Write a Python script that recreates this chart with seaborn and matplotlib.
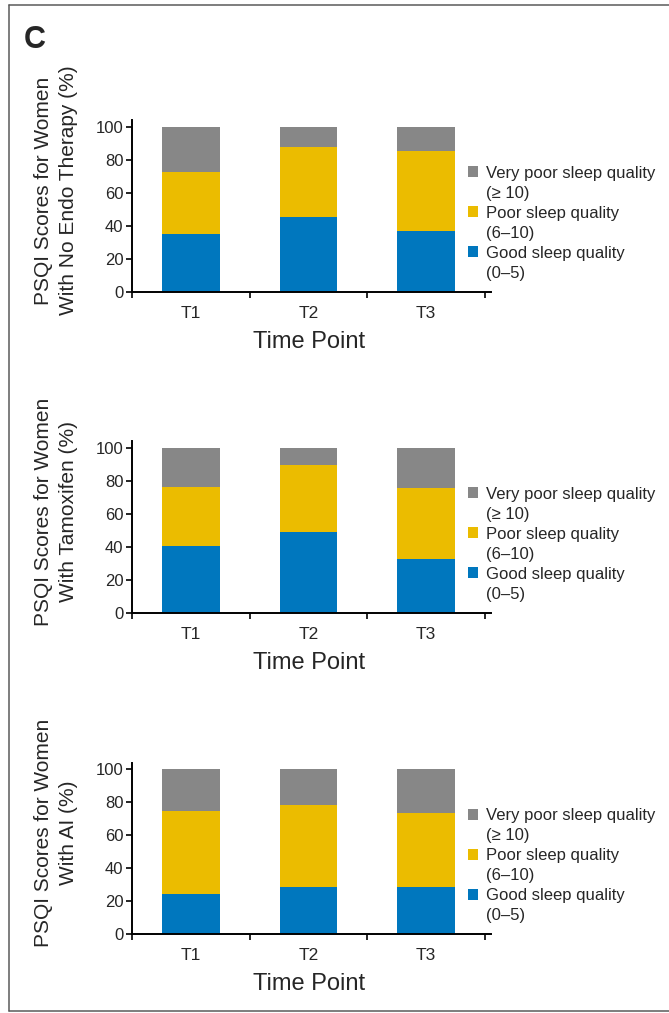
import matplotlib
matplotlib.use("Agg")
import matplotlib.pyplot as plt
from matplotlib.patches import Patch
from matplotlib.lines import Line2D
import seaborn as sns
import pandas as pd

# ---------------- data ----------------
timepoints = ["T1", "T2", "T3"]

good_noendo = [35.0, 45.3, 36.8]
poor_noendo = [37.6, 42.5, 48.5]
vpoor_noendo = [27.4, 12.2, 14.7]

good_tam = [40.2, 49.2, 32.3]
poor_tam = [36.1, 40.6, 43.4]
vpoor_tam = [23.7, 10.2, 24.3]

good_ai = [24.2, 28.4, 28.4]
poor_ai = [50.4, 49.8, 45.0]
vpoor_ai = [25.4, 21.8, 26.6]

group_labels = ["No Endo Therapy", "Tamoxifen", "AI"]
category_names = ["Very poor sleep quality", "Poor sleep quality", "Good sleep quality"]
category_ranges = ["(\u2265 10)", "(6\u201310)", "(0\u20135)"]
category_colors = ["#878787", "#EBBC00", "#0077BE"]
y_ticks = [0, 20, 40, 60, 80, 100]

panels = [
    (good_noendo, poor_noendo, vpoor_noendo),
    (good_tam, poor_tam, vpoor_tam),
    (good_ai, poor_ai, vpoor_ai),
]

# ---------------- style ----------------
sns.set_style("ticks")
plt.rcParams["font.family"] = ["Liberation Sans", "DejaVu Sans"]

fig = plt.figure(figsize=(6.69, 10.13), dpi=100)

# frame around the figure
W, H = 669.0, 1013.0
fx = lambda px: px / W
fy = lambda py: 1 - py / H
frame_kw = dict(color="#5a5a5a", lw=1.1, transform=fig.transFigure, clip_on=False)
fig.add_artist(Line2D([fx(8.5), fx(8.5)], [fy(5), fy(1011)], **frame_kw))
fig.add_artist(Line2D([fx(8.5), 1.0], [fy(5), fy(5)], **frame_kw))
fig.add_artist(Line2D([fx(8.5), 1.0], [fy(1011), fy(1011)], **frame_kw))

fig.text(fx(24), fy(48.3), "C", fontsize=22, fontweight="bold", ha="left", va="baseline")

bottoms = [0.71204, 0.39516, 0.07769]
left, width, height = 0.19776, 0.5356, 0.1693

for (good, poor, vpoor), glabel, bottom in zip(panels, group_labels, bottoms):
    ax = fig.add_axes([left, bottom, width, height])
    df = pd.DataFrame({
        "time": timepoints,
        "good": good,
        "poor": poor,
        "vpoor": vpoor,
    })
    df["mid"] = df["good"] + df["poor"]
    df["total"] = df["mid"] + df["vpoor"]

    for col, color in zip(["total", "mid", "good"], category_colors):
        sns.barplot(data=df, x="time", y=col, color=color, saturation=1,
                    width=0.49, linewidth=0, ax=ax, errorbar=None)

    ax.set_ylim(0, 104)
    ax.set_xlim(-0.5, 2.55)
    ax.set_yticks(y_ticks)
    ax.set_yticklabels([str(t) for t in y_ticks], fontsize=12)
    ax.set_xticks(range(len(timepoints)))
    ax.set_xticklabels(timepoints, fontsize=12.5)
    ax.set_xticks([-0.5, 0.5, 1.5, 2.5], minor=True)
    ax.tick_params(axis="x", which="major", length=0, pad=10)
    ax.tick_params(axis="x", which="minor", length=4, width=1.2, color="black")
    ax.tick_params(axis="y", which="major", length=4, width=1.2, pad=2.5, color="black")

    for s in ["top", "right"]:
        ax.spines[s].set_visible(False)
    for s in ["left", "bottom"]:
        ax.spines[s].set_linewidth(1.4)
        ax.spines[s].set_color("black")

    ax.set_ylabel(f"PSQI Scores for Women\nWith {glabel} (%)", fontsize=15,
                  linespacing=1.4)
    ax.yaxis.set_label_coords(-0.151, 0.59)
    ax.set_xlabel("Time Point", fontsize=17, va="top")
    ax.xaxis.set_label_coords(0.494, -0.228)

    handles, labels = [], []
    for name, rng, color in zip(category_names, category_ranges, category_colors):
        handles.append(Patch(facecolor=color, edgecolor="none"))
        labels.append(name)
        handles.append(Patch(facecolor="none", edgecolor="none"))
        labels.append(rng)
    ax.legend(handles, labels, loc="center left", bbox_to_anchor=(0.937, 0.40),
              frameon=False, fontsize=12, handlelength=0.62, handleheight=0.62,
              handletextpad=0.45, labelspacing=0.3, borderpad=0, borderaxespad=0)

fig.savefig("out.png", dpi=100)
